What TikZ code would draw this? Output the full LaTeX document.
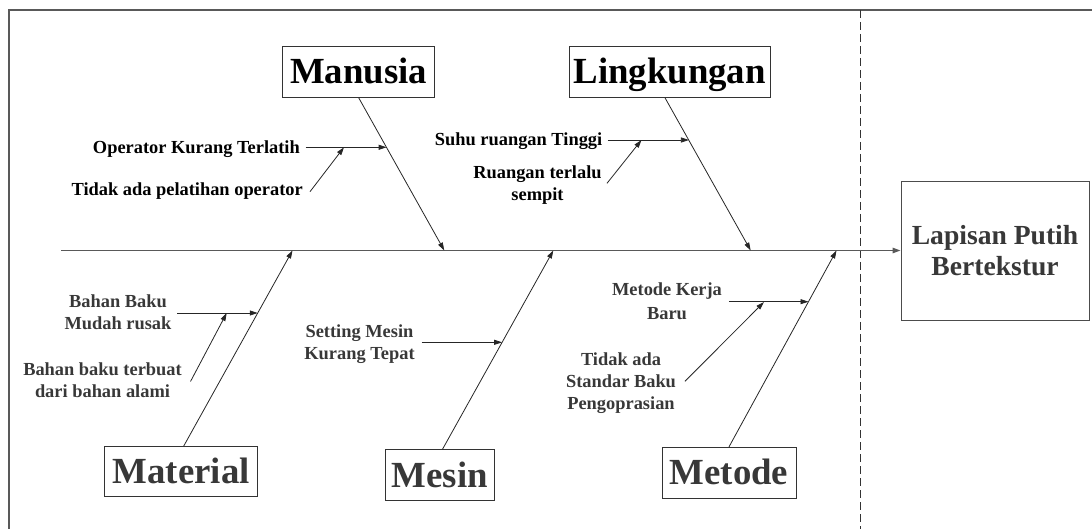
\documentclass[tikz,border=0pt]{standalone}
\usepackage{fontspec}
\setmainfont{Liberation Serif}
\usetikzlibrary{arrows.meta}

\begin{document}
\begin{tikzpicture}[x=1pt,y=-1pt,
  frameline/.style={draw=black!65, line width=1.3pt},
  cutline/.style={draw=black!80, line width=0.9pt, dash pattern=on 8pt off 4pt},
  spine/.style={draw=black!65, line width=1.3pt, -{Triangle[length=8pt,width=5.5pt]}},
  bone/.style={draw=black!85, line width=0.8pt, -{Triangle[length=8pt,width=5pt]}},
  twig/.style={draw=black!85, line width=0.8pt, -{Triangle[length=8pt,width=5pt]}},
  catbox/.style={draw=black!80, line width=0.9pt, inner sep=0pt,
    font=\fontsize{36.8}{40}\selectfont\bfseries, text height=24.2pt, text depth=0pt},
  effbox/.style={draw=black!70, line width=1pt, inner sep=0pt, align=center, text=black!78,
    font=\fontsize{27.6}{31}\selectfont\bfseries},
  % a cause label is placed by the middle of the capitals of its last line
  cause/.style={inner sep=0pt, align=center,
    font=\fontsize{18.4}{21.7}\selectfont\bfseries, text height=12.1pt, text depth=0pt},
  lowtext/.style={text=black!78},
]
\useasboundingbox (0,0) rectangle (1092,529);

% page frame and cut line
\draw[frameline] (9,529) -- (9,10) -- (1092,10);
\draw[cutline] (860.7,10) -- (860.7,529);

% effect
\node[effbox, minimum width=188pt, minimum height=138.3pt] (effect) at (995,250.9) {Lapisan Putih\\Bertekstur};

% main spine
\coordinate (tail) at (61,250.5);
\draw[spine] (tail) -- (tail -| effect.west);

% category boxes
\node[catbox, minimum width=152pt, minimum height=51.3pt] (manusia) at (358.7,71.7) {Manusia};
\node[catbox, minimum width=200.7pt, minimum height=51.3pt] (lingkungan) at (669.7,71.7) {Lingkungan};
\node[catbox, lowtext, minimum width=153.3pt, minimum height=50pt] (material) at (181.2,471.7) {Material};
\node[catbox, lowtext, minimum width=108.3pt, minimum height=51pt] (mesin) at (439.9,475.2) {Mesin};
\node[catbox, lowtext, minimum width=134pt, minimum height=51pt] (metode) at (729,472.8) {Metode};

% bone tips on the spine
\coordinate (tManusia) at (444.3,250.5);
\coordinate (tLingkungan) at (750.7,250.5);
\coordinate (tMaterial) at (292.5,250.5);
\coordinate (tMesin) at (553.3,250.5);
\coordinate (tMetode) at (836.5,250.5);

\draw[bone] (manusia.south) -- (tManusia);
\draw[bone] ([xshift=-4.7pt]lingkungan.south) -- (tLingkungan);
\draw[bone] ([xshift=2.4pt]material.north) -- (tMaterial);
\draw[bone] ([xshift=2.6pt]mesin.north) -- (tMesin);
\draw[bone] (metode.north) -- (tMetode);

% causes: Manusia
\node[cause, anchor=east] (c1) at (300,147) {Operator Kurang Terlatih};
\node[cause, anchor=east] (c2) at (303,189.5) {Tidak ada pelatihan operator};
\coordinate (m1s) at (305.5,147.3);
\coordinate (m1e) at (386.6,147.3);
\coordinate (m2s) at (310,191.7);
\coordinate (m2e) at (344,147.3);
\draw[twig] (m1s) -- (m1e);
\draw[twig] (m2s) -- (m2e);

% causes: Lingkungan
\node[cause, anchor=east] (c3) at (602.5,139.3) {Suhu ruangan Tinggi};
\node[cause] (c4) at (537.5,194) {Ruangan terlalu\\sempit};
\coordinate (l1s) at (607.5,140);
\coordinate (l1e) at (688.9,140);
\coordinate (l2s) at (607,183.3);
\coordinate (l2e) at (641.5,140);
\draw[twig] (l1s) -- (l1e);
\draw[twig] (l2s) -- (l2e);

% causes: Material
\node[cause, lowtext] (c5) at (118,323) {Bahan Baku\\Mudah rusak};
\node[cause, lowtext] (c6) at (102.5,391.3) {Bahan baku terbuat\\dari bahan alami};
\coordinate (a1s) at (177,313);
\coordinate (a1e) at (257.8,313);
\coordinate (a2s) at (190.5,381.5);
\coordinate (a2e) at (226.7,313);
\draw[twig] (a1s) -- (a1e);
\draw[twig] (a2s) -- (a2e);

% causes: Mesin
\node[cause, lowtext] (c7) at (359.5,353) {Setting Mesin\\Kurang Tepat};
\coordinate (s1s) at (421.5,342.3);
\coordinate (s1e) at (502.2,342.3);
\draw[twig] (s1s) -- (s1e);

% causes: Metode
\node[cause, lowtext, font=\fontsize{18.4}{23.3}\selectfont\bfseries] (c8) at (667,313) {Metode Kerja\\Baru};
\node[cause, lowtext] (c9) at (621,403) {Tidak ada\\Standar Baku\\Pengoprasian};
\coordinate (d1s) at (728.8,301.7);
\coordinate (d1e) at (808.5,301.7);
\coordinate (d2s) at (685,381.3);
\coordinate (d2e) at (764,302);
\draw[twig] (d1s) -- (d1e);
\draw[twig] (d2s) -- (d2e);
\end{tikzpicture}
\end{document}
